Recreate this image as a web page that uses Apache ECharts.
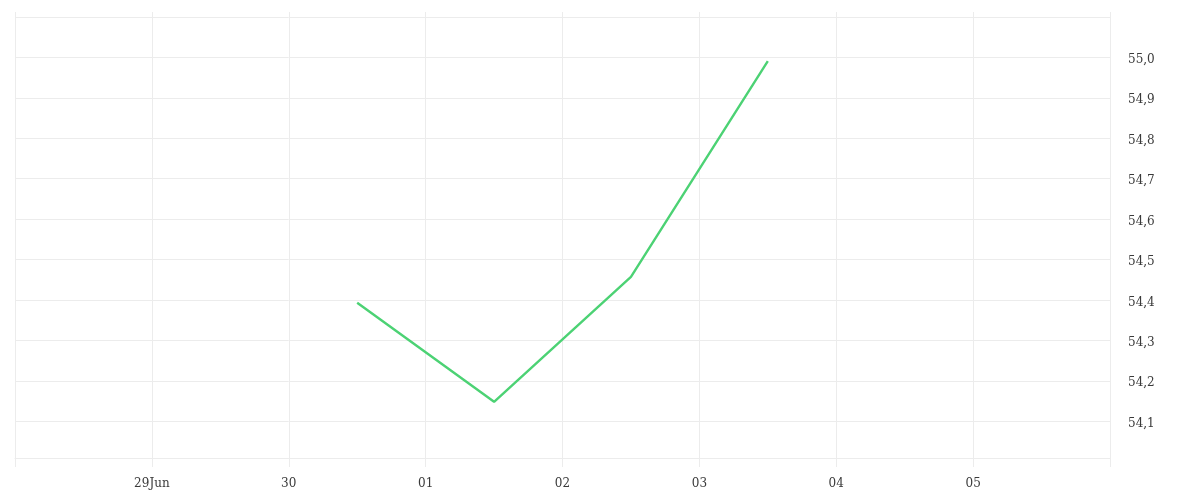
<!DOCTYPE html>
<html>
<head>
<meta charset="utf-8">
<script src="https://cdn.jsdelivr.net/npm/echarts@6/dist/echarts.min.js"></script>
<style>html,body{margin:0;padding:0;background:#fff}#c{width:1200px;height:500px}</style>
</head>
<body>
<div id="c"></div>
<script>
// Data
const pointDates = ['2020-06-30T12:00', '2020-07-01T12:00', '2020-07-02T12:00', '2020-07-03T12:00'];
const seriesValues = [54.393, 54.148, 54.457, 54.991];
const xTickLabels = ['29Jun', '30', '01', '02', '03', '04', '05'];
const xStart = '2020-06-28T00:00';
const xEnd = '2020-07-06T00:00';
const yMin = 54.009;
const yMax = 55.1;

const DAY = 86400000;
const toMs = s => new Date(s).getTime();
const t0 = toMs(xStart);

const chart = echarts.init(document.getElementById('c'), null, {renderer: 'canvas'});
const gridColor = '#ececec';
const font = {fontFamily: 'DejaVu Serif', fontSize: 12, color: '#3a3a3a'};

chart.setOption({
  animation: false,
  grid: {left: 15, right: 90, top: 17, bottom: 42},
  xAxis: [{
    type: 'time',
    min: toMs(xStart),
    max: toMs(xEnd),
    minInterval: DAY,
    maxInterval: DAY,
    splitNumber: 8,
    axisLine: {show: true, lineStyle: {color: gridColor, width: 1}},
    axisTick: {show: true, length: 9, lineStyle: {color: gridColor}},
    splitLine: {show: true, lineStyle: {color: gridColor, width: 1}},
    axisLabel: Object.assign({
      margin: 20,
      showMinLabel: false,
      showMaxLabel: false,
      hideOverlap: false,
      formatter: function (v) {
        const i = Math.round((v - t0) / DAY) - 1;
        return (i >= 0 && i < xTickLabels.length) ? xTickLabels[i] : '';
      }
    }, font)
  }, {
    type: 'time',
    position: 'top',
    min: toMs(xStart),
    max: toMs(xEnd),
    minInterval: DAY,
    maxInterval: DAY,
    splitNumber: 8,
    axisLine: {show: false},
    axisTick: {show: true, length: 5, lineStyle: {color: gridColor}},
    splitLine: {show: false},
    axisLabel: {show: false}
  }],
  yAxis: {
    type: 'value',
    position: 'right',
    min: yMin,
    max: yMax,
    splitNumber: 10,
    minInterval: 0.1,
    maxInterval: 0.1,
    axisLine: {show: true, lineStyle: {color: gridColor}},
    axisTick: {show: false},
    splitLine: {show: true, lineStyle: {color: gridColor, width: 1}},
    axisLabel: Object.assign({
      margin: 18,
      showMinLabel: false,
      showMaxLabel: false,
      formatter: function (v) { return '{a|' + v.toFixed(1).replace('.', ',') + '}'; },
      rich: {a: {fontFamily: 'DejaVu Serif', fontSize: 12, color: '#3a3a3a', padding: [5, 0, 0, 0]}}
    }, font)
  },
  series: [{
    type: 'line',
    xAxisIndex: 0,
    data: pointDates.map((d, i) => [toMs(d), seriesValues[i]]),
    showSymbol: false,
    symbol: 'none',
    lineStyle: {color: '#4cd274', width: 2.4},
    itemStyle: {color: '#4cd274'}
  }]
});
</script>
</body>
</html>
